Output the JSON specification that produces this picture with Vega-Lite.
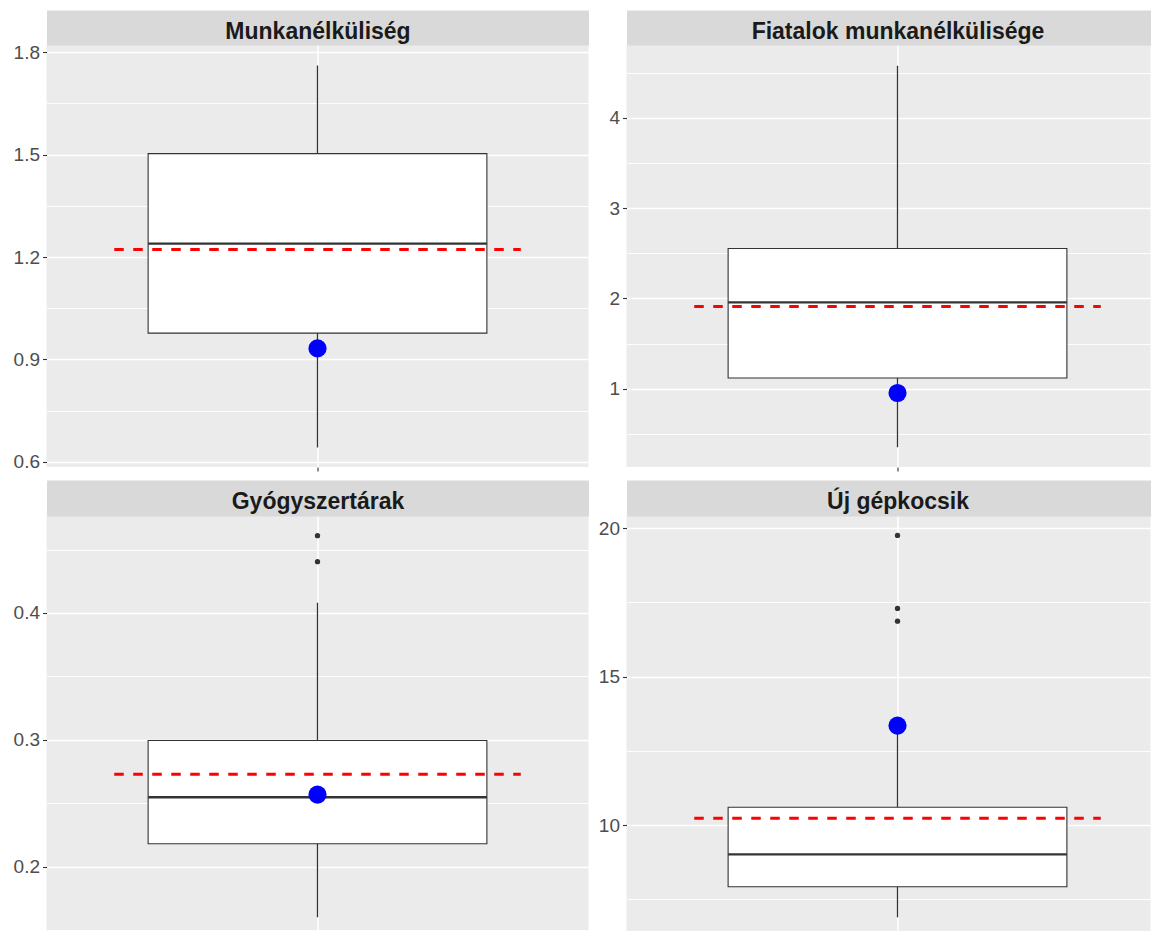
{
  "$schema": "https://vega.github.io/schema/vega-lite/v6.json",
  "background": "white",
  "padding": {"left": 12.5, "top": 20, "right": 0, "bottom": 0},
  "config": {
    "view": {"stroke": null},
    "axis": {"labelFont": "Liberation Sans", "labelFontSize": 19, "labelColor": "#4D4D4D", "tickColor": "#333333", "tickSize": 4, "tickWidth": 1.1, "labelPadding": 3, "gridColor": "#FFFFFF", "gridWidth": 1.6, "domain": false, "title": null},
    "text": {"font": "Liberation Sans"}
  },
  "datasets": {
    "stats": [
      {"metric": "Munkanélküliség", "lower": 0.642, "q1": 0.977, "median": 1.239, "q3": 1.503, "upper": 1.761, "mean": 1.222, "highlight": 0.932},
      {"metric": "Fiatalok munkanélkülisége", "lower": 0.35, "q1": 1.119, "median": 1.956, "q3": 2.554, "upper": 4.58, "mean": 1.911, "highlight": 0.952},
      {"metric": "Gyógyszertárak", "lower": 0.160, "q1": 0.218, "median": 0.2547, "q3": 0.2995, "upper": 0.408, "mean": 0.2729, "highlight": 0.2568},
      {"metric": "Új gépkocsik", "lower": 6.89, "q1": 7.92, "median": 9.01, "q3": 10.60, "upper": 13.35, "mean": 10.23, "highlight": 13.35}
    ],
    "outliers": [
      {"metric": "Gyógyszertárak", "value": 0.461},
      {"metric": "Gyógyszertárak", "value": 0.4405},
      {"metric": "Új gépkocsik", "value": 19.76},
      {"metric": "Új gépkocsik", "value": 17.30},
      {"metric": "Új gépkocsik", "value": 16.87}
    ]
  },
  "bounds": "flush",
  "columns": 2,
  "spacing": {"row": 49, "column": 38},
  "concat": [
    {
      "width": 542, "height": 422,
      "view": {"fill": "#EBEBEB", "stroke": null},
      "data": {"name": "stats"},
      "transform": [{"filter": "datum.metric === 'Munkanélküliség'"}],
      "resolve": {"axis": {"x": "independent", "y": "independent"}},
      "layer": [
        {
          "mark": {"type": "rule", "color": "#333333", "strokeWidth": 1.3},
          "encoding": {
            "x": {"datum": 1, "type": "quantitative", "scale": {"domain": [0.4, 1.6], "nice": false, "zero": false}, "axis": {"values": [1], "labels": false, "ticks": true, "grid": true, "domain": false, "title": null, "orient": "bottom"}},
            "y": {"field": "lower", "type": "quantitative", "scale": {"domain": [0.5845, 1.8214], "nice": false, "zero": false}, "axis": {"values": [0.6, 0.9, 1.2, 1.5, 1.8], "format": ".1f", "orient": "left", "title": null}},
            "y2": {"field": "upper"}
          }
        },
        {
          "mark": {"type": "rect", "fill": "#FFFFFF", "stroke": "#333333", "strokeWidth": 1.1},
          "encoding": {
            "x": {"datum": 0.625, "type": "quantitative", "axis": null},
            "x2": {"datum": 1.375},
            "y": {"field": "q1", "type": "quantitative", "axis": {"values": [0.75, 1.05, 1.35, 1.65], "orient": "right", "labels": false, "ticks": false, "domain": false, "grid": true, "gridWidth": 0.9, "title": null}},
            "y2": {"field": "q3"}
          }
        },
        {
          "mark": {"type": "rule", "color": "#333333", "strokeWidth": 2.3},
          "encoding": {
            "x": {"datum": 0.625, "type": "quantitative", "axis": null},
            "x2": {"datum": 1.375},
            "y": {"field": "median", "type": "quantitative", "axis": null}
          }
        },
        {
          "mark": {"type": "rule", "color": "#FF0000", "strokeWidth": 3, "strokeDash": [9.5, 9.5]},
          "encoding": {
            "x": {"datum": 0.55, "type": "quantitative", "axis": {"orient": "top", "domain": true, "domainColor": "#D9D9D9", "domainWidth": 35, "domainCap": "butt", "offset": 17.5, "ticks": false, "labels": false, "grid": false, "title": "Munkanélküliség", "titleFont": "Liberation Sans", "titleFontSize": 23, "titleFontWeight": "bold", "titleColor": "#1A1A1A", "titleBaseline": "alphabetic", "titleY": 10.5}},
            "x2": {"datum": 1.45},
            "y": {"field": "mean", "type": "quantitative", "axis": null}
          }
        },
        {
          "mark": {"type": "point", "filled": true, "color": "#0000FF", "size": 330, "opacity": 1},
          "encoding": {
            "x": {"datum": 1, "type": "quantitative", "axis": null},
            "y": {"field": "highlight", "type": "quantitative", "axis": null}
          }
        }
      ]
    },
    {
      "width": 524, "height": 422,
      "view": {"fill": "#EBEBEB", "stroke": null},
      "data": {"name": "stats"},
      "transform": [{"filter": "datum.metric === 'Fiatalok munkanélkülisége'"}],
      "resolve": {"axis": {"x": "independent", "y": "independent"}},
      "layer": [
        {
          "mark": {"type": "rule", "color": "#333333", "strokeWidth": 1.3},
          "encoding": {
            "x": {"datum": 1, "type": "quantitative", "scale": {"domain": [0.4, 1.5601], "nice": false, "zero": false}, "axis": {"values": [1], "labels": false, "ticks": true, "grid": true, "domain": false, "title": null, "orient": "bottom"}},
            "y": {"field": "lower", "type": "quantitative", "scale": {"domain": [0.132, 4.809], "nice": false, "zero": false}, "axis": {"values": [1, 2, 3, 4], "format": "d", "orient": "left", "title": null}},
            "y2": {"field": "upper"}
          }
        },
        {
          "mark": {"type": "rect", "fill": "#FFFFFF", "stroke": "#333333", "strokeWidth": 1.1},
          "encoding": {
            "x": {"datum": 0.625, "type": "quantitative", "axis": null},
            "x2": {"datum": 1.375},
            "y": {"field": "q1", "type": "quantitative", "axis": {"values": [0.5, 1.5, 2.5, 3.5, 4.5], "orient": "right", "labels": false, "ticks": false, "domain": false, "grid": true, "gridWidth": 0.9, "title": null}},
            "y2": {"field": "q3"}
          }
        },
        {
          "mark": {"type": "rule", "color": "#333333", "strokeWidth": 2.3},
          "encoding": {
            "x": {"datum": 0.625, "type": "quantitative", "axis": null},
            "x2": {"datum": 1.375},
            "y": {"field": "median", "type": "quantitative", "axis": null}
          }
        },
        {
          "mark": {"type": "rule", "color": "#FF0000", "strokeWidth": 3, "strokeDash": [9.5, 9.5]},
          "encoding": {
            "x": {"datum": 0.55, "type": "quantitative", "axis": {"orient": "top", "domain": true, "domainColor": "#D9D9D9", "domainWidth": 35, "domainCap": "butt", "offset": 17.5, "ticks": false, "labels": false, "grid": false, "title": "Fiatalok munkanélkülisége", "titleFont": "Liberation Sans", "titleFontSize": 23, "titleFontWeight": "bold", "titleColor": "#1A1A1A", "titleBaseline": "alphabetic", "titleY": 10.5, "titleX": 271}},
            "x2": {"datum": 1.45},
            "y": {"field": "mean", "type": "quantitative", "axis": null}
          }
        },
        {
          "mark": {"type": "point", "filled": true, "color": "#0000FF", "size": 330, "opacity": 1},
          "encoding": {
            "x": {"datum": 1, "type": "quantitative", "axis": null},
            "y": {"field": "highlight", "type": "quantitative", "axis": null}
          }
        }
      ]
    },
    {
      "width": 542, "height": 415,
      "view": {"fill": "#EBEBEB", "stroke": null},
      "data": {"name": "stats"},
      "transform": [{"filter": "datum.metric === 'Gyógyszertárak'"}],
      "resolve": {"axis": {"x": "independent", "y": "independent"}},
      "layer": [
        {
          "mark": {"type": "rule", "color": "#333333", "strokeWidth": 1.3},
          "encoding": {
            "x": {"datum": 1, "type": "quantitative", "scale": {"domain": [0.4, 1.6], "nice": false, "zero": false}, "axis": {"values": [1], "labels": false, "ticks": false, "grid": true, "domain": false, "title": null, "orient": "bottom"}},
            "y": {"field": "lower", "type": "quantitative", "scale": {"domain": [0.1492, 0.4765], "nice": false, "zero": false}, "axis": {"values": [0.2, 0.3, 0.4], "format": ".1f", "orient": "left", "title": null}},
            "y2": {"field": "upper"}
          }
        },
        {
          "mark": {"type": "rect", "fill": "#FFFFFF", "stroke": "#333333", "strokeWidth": 1.1},
          "encoding": {
            "x": {"datum": 0.625, "type": "quantitative", "axis": null},
            "x2": {"datum": 1.375},
            "y": {"field": "q1", "type": "quantitative", "axis": {"values": [0.15, 0.25, 0.35, 0.45], "orient": "right", "labels": false, "ticks": false, "domain": false, "grid": true, "gridWidth": 0.9, "title": null}},
            "y2": {"field": "q3"}
          }
        },
        {
          "mark": {"type": "rule", "color": "#333333", "strokeWidth": 2.3},
          "encoding": {
            "x": {"datum": 0.625, "type": "quantitative", "axis": null},
            "x2": {"datum": 1.375},
            "y": {"field": "median", "type": "quantitative", "axis": null}
          }
        },
        {
          "mark": {"type": "rule", "color": "#FF0000", "strokeWidth": 3, "strokeDash": [9.5, 9.5]},
          "encoding": {
            "x": {"datum": 0.55, "type": "quantitative", "axis": {"orient": "top", "domain": true, "domainColor": "#D9D9D9", "domainWidth": 36, "domainCap": "butt", "offset": 18, "ticks": false, "labels": false, "grid": false, "title": "Gyógyszertárak", "titleFont": "Liberation Sans", "titleFontSize": 23, "titleFontWeight": "bold", "titleColor": "#1A1A1A", "titleBaseline": "alphabetic", "titleY": 10.5}},
            "x2": {"datum": 1.45},
            "y": {"field": "mean", "type": "quantitative", "axis": null}
          }
        },
        {
          "mark": {"type": "point", "filled": true, "color": "#0000FF", "size": 330, "opacity": 1},
          "encoding": {
            "x": {"datum": 1, "type": "quantitative", "axis": null},
            "y": {"field": "highlight", "type": "quantitative", "axis": null}
          }
        },
        {
          "data": {"name": "outliers"},
          "transform": [{"filter": "datum.metric === 'Gyógyszertárak'"}],
          "mark": {"type": "point", "filled": true, "color": "#333333", "size": 28, "opacity": 1},
          "encoding": {
            "x": {"datum": 1, "type": "quantitative", "axis": null},
            "y": {"field": "value", "type": "quantitative", "axis": null}
          }
        }
      ]
    },
    {
      "width": 524, "height": 415,
      "view": {"fill": "#EBEBEB", "stroke": null},
      "data": {"name": "stats"},
      "transform": [{"filter": "datum.metric === 'Új gépkocsik'"}],
      "resolve": {"axis": {"x": "independent", "y": "independent"}},
      "layer": [
        {
          "mark": {"type": "rule", "color": "#333333", "strokeWidth": 1.3},
          "encoding": {
            "x": {"datum": 1, "type": "quantitative", "scale": {"domain": [0.4, 1.5601], "nice": false, "zero": false}, "axis": {"values": [1], "labels": false, "ticks": false, "grid": true, "domain": false, "title": null, "orient": "bottom"}},
            "y": {"field": "lower", "type": "quantitative", "scale": {"domain": [6.428, 20.415], "nice": false, "zero": false}, "axis": {"values": [10, 15, 20], "format": "d", "orient": "left", "title": null}},
            "y2": {"field": "upper"}
          }
        },
        {
          "mark": {"type": "rect", "fill": "#FFFFFF", "stroke": "#333333", "strokeWidth": 1.1},
          "encoding": {
            "x": {"datum": 0.625, "type": "quantitative", "axis": null},
            "x2": {"datum": 1.375},
            "y": {"field": "q1", "type": "quantitative", "axis": {"values": [7.5, 12.5, 17.5], "orient": "right", "labels": false, "ticks": false, "domain": false, "grid": true, "gridWidth": 0.9, "title": null}},
            "y2": {"field": "q3"}
          }
        },
        {
          "mark": {"type": "rule", "color": "#333333", "strokeWidth": 2.3},
          "encoding": {
            "x": {"datum": 0.625, "type": "quantitative", "axis": null},
            "x2": {"datum": 1.375},
            "y": {"field": "median", "type": "quantitative", "axis": null}
          }
        },
        {
          "mark": {"type": "rule", "color": "#FF0000", "strokeWidth": 3, "strokeDash": [9.5, 9.5]},
          "encoding": {
            "x": {"datum": 0.55, "type": "quantitative", "axis": {"orient": "top", "domain": true, "domainColor": "#D9D9D9", "domainWidth": 36, "domainCap": "butt", "offset": 18, "ticks": false, "labels": false, "grid": false, "title": "Új gépkocsik", "titleFont": "Liberation Sans", "titleFontSize": 23, "titleFontWeight": "bold", "titleColor": "#1A1A1A", "titleBaseline": "alphabetic", "titleY": 10.5, "titleX": 271}},
            "x2": {"datum": 1.45},
            "y": {"field": "mean", "type": "quantitative", "axis": null}
          }
        },
        {
          "mark": {"type": "point", "filled": true, "color": "#0000FF", "size": 330, "opacity": 1},
          "encoding": {
            "x": {"datum": 1, "type": "quantitative", "axis": null},
            "y": {"field": "highlight", "type": "quantitative", "axis": null}
          }
        },
        {
          "data": {"name": "outliers"},
          "transform": [{"filter": "datum.metric === 'Új gépkocsik'"}],
          "mark": {"type": "point", "filled": true, "color": "#333333", "size": 28, "opacity": 1},
          "encoding": {
            "x": {"datum": 1, "type": "quantitative", "axis": null},
            "y": {"field": "value", "type": "quantitative", "axis": null}
          }
        }
      ]
    }
  ]
}
